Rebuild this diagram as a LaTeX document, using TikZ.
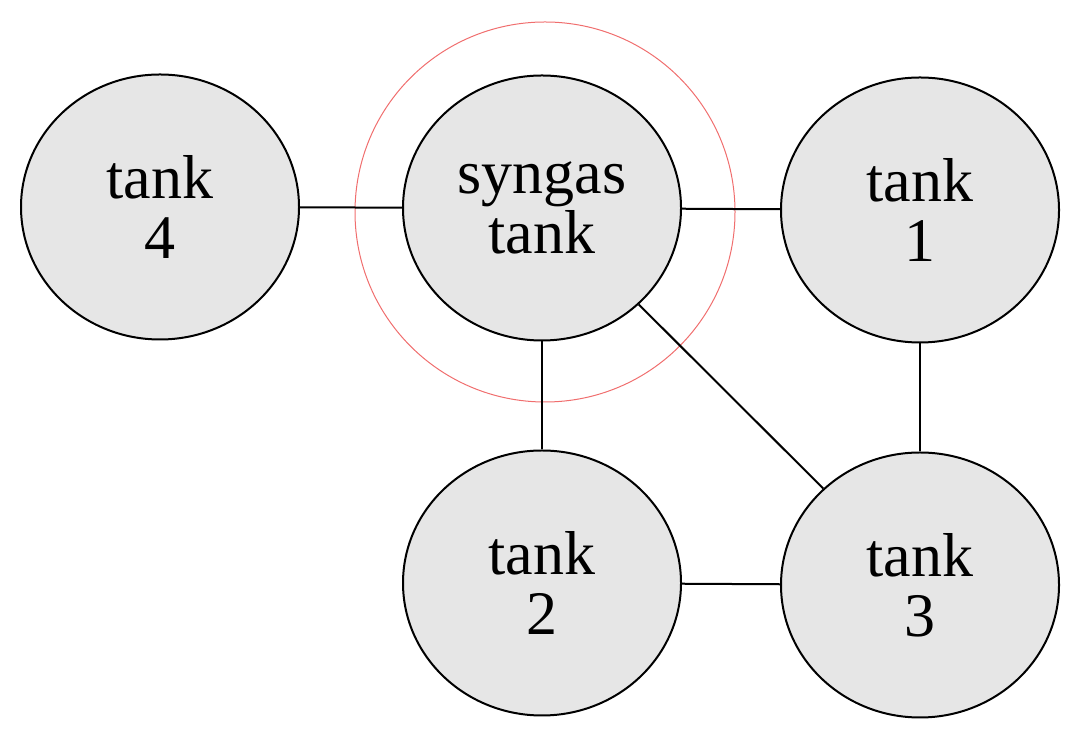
\documentclass[tikz,border=0pt]{standalone}
\usepackage{fontspec}
\setmainfont{Liberation Serif}
\usetikzlibrary{shapes.geometric}
\begin{document}
\begin{tikzpicture}[x=1pt,y=1pt,
  tanknode/.style={ellipse,draw=black,line width=2pt,fill={rgb,255:red,230;green,230;blue,230},minimum width=278pt,minimum height=265pt,inner sep=0pt,align=center,font=\fontsize{62}{60}\selectfont},
  link/.style={line width=2pt}]
\useasboundingbox (0,0) rectangle (1083,751);
\node[tanknode] (t4) at (160,544) {tank\\4};
\node[tanknode] (sg) at (542,543) {syngas\\tank};
\node[tanknode] (t1) at (920,541) {tank\\1};
\node[tanknode] (t2) at (542,168) {tank\\2};
\node[tanknode] (t3) at (920,166) {tank\\3};
\node[circle,draw={rgb,255:red,240;green,110;blue,110},line width=1pt,minimum size=380pt,inner sep=0pt] (ring) at (545,539) {};
\draw[link] (t4) -- (sg);
\draw[link] (sg) -- (t1);
\draw[link] (sg) -- (t2);
\draw[link] (sg) -- (t3);
\draw[link] (t1) -- (t3);
\draw[link] (t2) -- (t3);
\end{tikzpicture}
\end{document}
